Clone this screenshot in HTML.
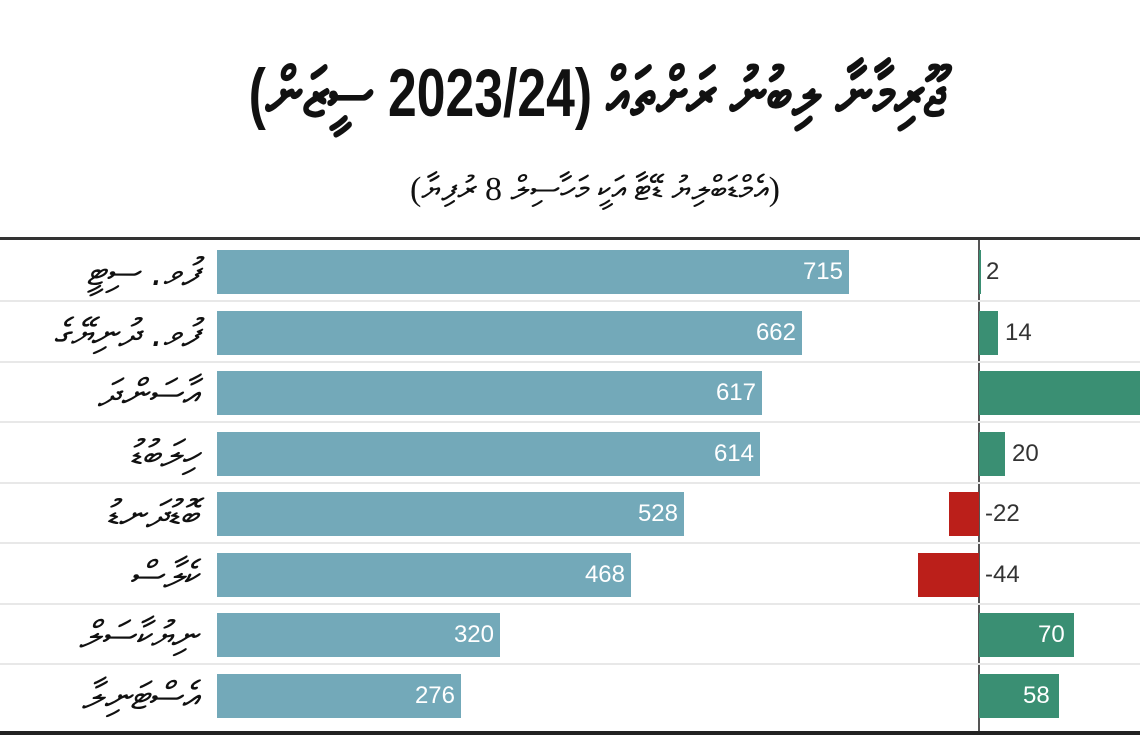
<!DOCTYPE html>
<html><head><meta charset="utf-8"><style>
html,body{margin:0;padding:0;background:#fff;width:1140px;height:735px;overflow:hidden;position:relative;font-family:"Liberation Sans","DejaVu Sans",sans-serif}
.t{position:absolute;left:0;width:1140px;text-align:center;color:#111}
.a{position:absolute}
.lab{position:absolute;right:942px;width:220px;text-align:right;font-size:38px;font-style:italic;color:#111;line-height:44px;font-family:"DejaVu Sans",sans-serif;white-space:nowrap}
.bl{position:absolute;left:217px;height:44px;background:#73a9b9;color:#fff;font-size:24px;line-height:44px;text-align:right;box-sizing:border-box;padding-right:6px}
.sep{position:absolute;left:0;width:1140px;height:2px;background:#e8e8e8}
.g{position:absolute;height:44px;background:#3a8f73}
.r{position:absolute;height:44px;background:#bb1f1a}
.v{position:absolute;font-size:24px;line-height:44px;color:#333}
</style></head><body>
<div class="t" style="top:48px;left:27px;font-size:68px;font-weight:bold;line-height:90px;transform:scaleX(0.76);font-family:'Liberation Sans','DejaVu Sans',sans-serif">ޖޫރިމާނާ ލިބުނު ރަށްތައް (2023/24 ސީޒަން)</div>
<div class="t" style="top:168px;left:25px;font-size:34px;line-height:44px;font-family:'Liberation Serif','DejaVu Serif',serif">(އެމްޑަބްލިޔު ޑޭޓާ އަކީ މަހާސިލް 8 ރުފިޔާ)</div>
<div class="a" style="left:0;top:237px;width:1140px;height:3px;background:#333"></div>
<div class="a" style="left:0;top:731px;width:1140px;height:4px;background:#222"></div>
<div class="a" style="left:978px;top:240px;width:2px;height:491px;background:#555"></div>
<div class="sep" style="top:300px"></div><div class="sep" style="top:361px"></div><div class="sep" style="top:421px"></div><div class="sep" style="top:482px"></div><div class="sep" style="top:542px"></div><div class="sep" style="top:603px"></div><div class="sep" style="top:663px"></div>

<div class="lab" style="top:250px">ފުވ. ސިޓީ</div>
<div class="lab" style="top:311px">ފުވ. ދުނިޔޭގެ</div>
<div class="lab" style="top:371px">އާސަންދަ</div>
<div class="lab" style="top:432px">ހިލަބުޑު</div>
<div class="lab" style="top:492px">ބޮޑުދަނޑު</div>
<div class="lab" style="top:553px">ކެލާސް</div>
<div class="lab" style="top:613px">ނިޔުކާސަލް</div>
<div class="lab" style="top:674px">އެސްޓަނިލާ</div>

<div class="bl" style="top:250px;width:632px">715</div>
<div class="bl" style="top:311px;width:585px">662</div>
<div class="bl" style="top:371px;width:545px">617</div>
<div class="bl" style="top:432px;width:543px">614</div>
<div class="bl" style="top:492px;width:467px">528</div>
<div class="bl" style="top:553px;width:414px">468</div>
<div class="bl" style="top:613px;width:283px">320</div>
<div class="bl" style="top:674px;width:244px">276</div>

<div class="g" style="left:979px;top:250px;width:2px"></div><div class="v" style="left:986px;top:250px">2</div>
<div class="g" style="left:979px;top:311px;width:19px"></div><div class="v" style="left:1005px;top:311px">14</div>
<div class="g" style="left:979px;top:371px;width:161px"></div>
<div class="g" style="left:979px;top:432px;width:26px"></div><div class="v" style="left:1012px;top:432px">20</div>
<div class="r" style="left:949px;top:492px;width:30px"></div><div class="v" style="left:985px;top:492px">-22</div>
<div class="r" style="left:918px;top:553px;width:61px"></div><div class="v" style="left:985px;top:553px">-44</div>
<div class="g" style="left:979px;top:613px;width:95px"></div><div class="v" style="left:1038px;top:613px;color:#fff">70</div>
<div class="g" style="left:979px;top:674px;width:80px"></div><div class="v" style="left:1023px;top:674px;color:#fff">58</div>
</body></html>
